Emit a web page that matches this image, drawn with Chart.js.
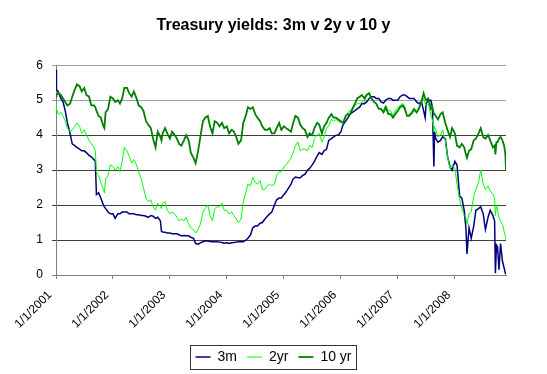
<!DOCTYPE html>
<html>
<head>
<meta charset="utf-8">
<title>Treasury yields</title>
<script src="https://cdn.jsdelivr.net/npm/chart.js@4.4.1/dist/chart.umd.min.js"></script>
<style>
  html, body { margin: 0; padding: 0; background: #fff; }
</style>
</head>
<body>
<canvas id="yields" width="547" height="374"></canvas>
<script>
// Values (roughly twice a month, yield in %)
const dates = [
  '2001-01-02','2001-01-04','2001-01-15','2001-02-01','2001-02-15','2001-03-01','2001-03-15','2001-04-01','2001-04-15',
  '2001-05-01','2001-05-15','2001-06-01','2001-06-15','2001-07-01','2001-07-15','2001-08-01','2001-08-15','2001-09-01',
  '2001-09-10','2001-09-17','2001-10-01','2001-10-15','2001-11-01','2001-11-07','2001-11-15','2001-12-01','2001-12-15',
  '2002-01-01','2002-01-15','2002-02-01','2002-02-15','2002-03-01','2002-03-15','2002-04-01','2002-04-15','2002-05-01',
  '2002-05-15','2002-06-01','2002-06-15','2002-07-01','2002-07-15','2002-08-01','2002-08-15','2002-09-01','2002-09-15',
  '2002-10-01','2002-10-15','2002-11-01','2002-11-08','2002-11-15','2002-12-01','2002-12-15',
  '2003-01-01','2003-01-15','2003-02-01','2003-02-15','2003-03-01','2003-03-15','2003-04-01','2003-04-15','2003-05-01',
  '2003-05-15','2003-06-01','2003-06-15','2003-07-01','2003-07-15','2003-08-01','2003-08-15','2003-09-01','2003-09-15',
  '2003-10-01','2003-10-15','2003-11-01','2003-11-15','2003-12-01','2003-12-15',
  '2004-01-01','2004-01-15','2004-02-01','2004-02-15','2004-03-01','2004-03-15','2004-04-01','2004-04-15','2004-05-01',
  '2004-05-15','2004-06-01','2004-06-15','2004-07-01','2004-07-15','2004-08-01','2004-08-15','2004-09-01','2004-09-15',
  '2004-10-01','2004-10-15','2004-11-01','2004-11-15','2004-12-01','2004-12-15',
  '2005-01-01','2005-01-15','2005-02-01','2005-02-15','2005-03-01','2005-03-15','2005-04-01','2005-04-15','2005-05-01',
  '2005-05-15','2005-06-01','2005-06-15','2005-07-01','2005-07-15','2005-08-01','2005-08-15','2005-09-01','2005-09-15',
  '2005-10-01','2005-10-15','2005-11-01','2005-11-15','2005-12-01','2005-12-15',
  '2006-01-01','2006-01-15','2006-02-01','2006-02-15','2006-03-01','2006-03-15','2006-04-01','2006-04-15','2006-05-01',
  '2006-05-15','2006-06-01','2006-06-15','2006-07-01','2006-07-15','2006-08-01','2006-08-15','2006-09-01','2006-09-15',
  '2006-10-01','2006-10-15','2006-11-01','2006-11-15','2006-12-01','2006-12-15',
  '2007-01-01','2007-01-15','2007-02-01','2007-02-15','2007-03-01','2007-03-15','2007-04-01','2007-04-15','2007-05-01',
  '2007-05-15','2007-06-01','2007-06-15','2007-06-25','2007-07-01','2007-07-15','2007-08-01','2007-08-10','2007-08-20',
  '2007-08-24','2007-09-01','2007-09-15','2007-10-01','2007-10-15','2007-11-01','2007-11-15','2007-12-01','2007-12-15',
  '2008-01-01','2008-01-15','2008-02-01','2008-02-15','2008-03-01','2008-03-12','2008-03-19','2008-04-01','2008-04-15',
  '2008-05-01','2008-05-15','2008-06-01','2008-06-15','2008-07-01','2008-07-15','2008-08-01','2008-08-15','2008-09-01',
  '2008-09-12','2008-09-17','2008-09-24','2008-10-01','2008-10-10','2008-10-20','2008-11-01','2008-11-12','2008-11-20',
  '2008-11-24'
];

const m3 = [
  5.87, 5.30, 5.25, 5.05, 4.95, 4.70, 4.35, 4.05, 3.75, 3.70, 3.65, 3.60, 3.55, 3.55, 3.50, 3.42, 3.38, 3.30,
  3.25, 2.30, 2.35, 2.20, 2.00, 1.95, 1.90, 1.80, 1.75,
  1.75, 1.62, 1.75, 1.75, 1.80, 1.80, 1.80, 1.75, 1.75, 1.75, 1.72, 1.72, 1.70, 1.70, 1.68, 1.65, 1.70, 1.68,
  1.62, 1.65, 1.55, 1.25, 1.23, 1.22, 1.20,
  1.20, 1.18, 1.18, 1.18, 1.15, 1.12, 1.13, 1.12, 1.12, 1.08, 1.05, 0.90, 0.88, 0.92, 0.95, 0.98, 0.97, 0.96,
  0.95, 0.95, 0.95, 0.94, 0.93, 0.91,
  0.92, 0.90, 0.92, 0.93, 0.94, 0.95, 0.96, 0.95, 1.00, 1.05, 1.15, 1.35, 1.40, 1.40, 1.48, 1.50, 1.60, 1.67,
  1.75, 1.80, 2.00, 2.15, 2.20, 2.20,
  2.30, 2.38, 2.50, 2.60, 2.75, 2.80, 2.78, 2.78, 2.85, 2.88, 3.00, 3.05, 3.15, 3.25, 3.40, 3.50, 3.45, 3.55,
  3.60, 3.85, 3.90, 3.95, 4.00, 4.00,
  4.10, 4.30, 4.40, 4.50, 4.60, 4.65, 4.70, 4.75, 4.80, 4.90, 4.90, 4.95, 5.05, 5.10, 5.10, 5.05, 5.05, 4.95,
  4.92, 5.00, 5.05, 5.05, 5.00, 5.00,
  5.00, 5.10, 5.15, 5.15, 5.10, 5.05, 5.05, 5.05, 4.95, 4.90, 4.95, 4.70, 4.50, 4.90, 5.00, 5.00, 4.80, 3.10,
  4.10, 3.90, 3.80, 3.85, 3.95, 3.90, 3.40, 3.10, 3.00,
  3.25, 3.15, 2.25, 2.20, 1.85, 1.35, 0.60, 1.35, 1.05, 1.40, 1.85, 1.90, 1.95, 1.75, 1.30, 1.65, 1.85, 1.70,
  1.55, 0.05, 0.85, 0.80, 0.15, 0.90, 0.40, 0.20, 0.05, 0.02
];

const y2 = [
  4.90, 4.75, 4.60, 4.65, 4.55, 4.40, 4.20, 4.10, 4.15, 4.25, 4.35, 4.25, 4.05, 4.15, 4.00, 3.85, 3.75, 3.65,
  3.55, 2.95, 2.85, 2.65, 2.45, 2.35, 2.75, 2.85, 3.15,
  3.10, 3.00, 3.10, 2.95, 3.25, 3.65, 3.55, 3.40, 3.20, 3.30, 3.15, 2.95, 2.75, 2.50, 2.20, 2.10, 2.15, 1.95,
  1.85, 2.05, 1.95, 1.90, 2.05, 2.10, 1.85,
  1.75, 1.80, 1.75, 1.65, 1.55, 1.60, 1.55, 1.65, 1.45, 1.35, 1.30, 1.20, 1.30, 1.45, 1.80, 1.90, 2.00, 1.70,
  1.55, 1.90, 1.95, 1.95, 2.05, 1.85,
  1.85, 1.75, 1.80, 1.70, 1.60, 1.50, 1.60, 2.10, 2.35, 2.60, 2.55, 2.80, 2.65, 2.60, 2.70, 2.45, 2.45, 2.55,
  2.60, 2.55, 2.60, 2.85, 2.95, 2.95,
  3.10, 3.15, 3.25, 3.35, 3.50, 3.70, 3.80, 3.55, 3.60, 3.60, 3.55, 3.70, 3.65, 3.90, 4.00, 4.05, 3.80, 3.95,
  4.20, 4.25, 4.45, 4.40, 4.45, 4.40,
  4.35, 4.35, 4.55, 4.65, 4.70, 4.70, 4.85, 4.90, 4.90, 4.95, 4.95, 5.15, 5.20, 5.05, 4.95, 4.90, 4.75, 4.75,
  4.70, 4.85, 4.70, 4.70, 4.55, 4.70,
  4.80, 4.85, 4.90, 4.80, 4.55, 4.60, 4.60, 4.70, 4.65, 4.80, 4.95, 5.05, 4.90, 4.85, 4.90, 4.55, 4.45, 4.10,
  4.25, 4.15, 3.95, 4.00, 4.15, 3.85, 3.40, 3.05, 3.15,
  3.05, 2.60, 2.15, 1.90, 1.70, 1.65, 1.45, 1.75, 1.80, 2.25, 2.45, 2.65, 3.00, 2.60, 2.45, 2.55, 2.40, 2.30,
  2.20, 1.70, 2.00, 1.85, 1.65, 1.55, 1.45, 1.25, 1.10, 1.00
];

const y10 = [
  5.10, 5.15, 5.20, 5.15, 5.05, 4.95, 4.85, 4.90, 5.10, 5.30, 5.45, 5.40, 5.25, 5.35, 5.15, 5.10, 4.85, 4.85,
  4.80, 4.70, 4.55, 4.50, 4.25, 4.20, 4.65, 4.75, 5.10,
  5.05, 4.95, 5.00, 4.90, 5.05, 5.35, 5.35, 5.20, 5.10, 5.25, 5.05, 4.85, 4.80, 4.70, 4.40, 4.30, 4.20, 3.90,
  3.65, 4.10, 3.95, 3.85, 4.05, 4.20, 4.05,
  3.90, 4.10, 4.00, 3.90, 3.75, 3.70, 3.85, 4.00, 3.85, 3.50, 3.35, 3.20, 3.55, 3.95, 4.40, 4.50, 4.55, 4.25,
  4.05, 4.40, 4.35, 4.25, 4.35, 4.20,
  4.25, 4.05, 4.15, 4.10, 3.95, 3.75, 3.85, 4.35, 4.55, 4.80, 4.75, 4.80, 4.60, 4.50, 4.40, 4.25, 4.15, 4.15,
  4.20, 4.05, 4.05, 4.20, 4.35, 4.15,
  4.25, 4.20, 4.15, 4.10, 4.35, 4.55, 4.50, 4.30, 4.20, 4.15, 3.95, 4.05, 4.00, 4.20, 4.35, 4.30, 4.05, 4.25,
  4.35, 4.50, 4.60, 4.50, 4.50, 4.45,
  4.40, 4.35, 4.55, 4.60, 4.60, 4.75, 4.90, 5.05, 5.10, 5.15, 5.05, 5.15, 5.20, 5.05, 4.95, 4.90, 4.75, 4.75,
  4.65, 4.80, 4.60, 4.60, 4.50, 4.60,
  4.70, 4.80, 4.85, 4.75, 4.55, 4.55, 4.65, 4.75, 4.65, 4.75, 4.95, 5.20, 5.05, 5.00, 5.05, 4.75, 4.80, 4.60,
  4.60, 4.55, 4.45, 4.60, 4.65, 4.35, 4.15, 3.95, 4.20,
  4.05, 3.70, 3.65, 3.75, 3.65, 3.45, 3.35, 3.55, 3.60, 3.85, 3.90, 4.05, 4.20, 3.95, 3.90, 4.00, 3.85, 3.65,
  3.70, 3.45, 3.80, 3.80, 3.90, 3.95, 3.85, 3.70, 3.45, 3.00
];

const tickLabels = ['1/1/2001', '1/1/2002', '1/1/2003', '1/1/2004', '1/1/2005', '1/1/2006', '1/1/2007', '1/1/2008'];

// dates -> whole days since 1 Jan 2001, so the x axis is a plain linear scale
const DAY = 86400000;
const origin = Date.UTC(2001, 0, 1);
function isoToDay(s) {
    const p = s.split('-');
    return Math.round((Date.UTC(+p[0], +p[1] - 1, +p[2]) - origin) / DAY);
}
function labelToDay(s) {
    const p = s.split('/');
    return Math.round((Date.UTC(+p[2], +p[0] - 1, +p[1]) - origin) / DAY);
}
const xs = dates.map(isoToDay);
const tickDays = tickLabels.map(labelToDay);
const toPoints = vals => vals.map((v, i) => ({ x: xs[i], y: v }));

const FONT = '"Liberation Sans", Arial, sans-serif';

// Excel style legend frame
const legendFrame = {
    id: 'legendFrame',
    afterDraw(chart) {
        const boxes = chart.legend && chart.legend.legendHitBoxes;
        if (!boxes || !boxes.length) return;
        const left = Math.min(...boxes.map(b => b.left)) - 5;
        const right = Math.max(...boxes.map(b => b.left + b.width)) + 5;
        const top = Math.min(...boxes.map(b => b.top)) - 5;
        const bottom = Math.max(...boxes.map(b => b.top + b.height)) + 5;
        const ctx = chart.ctx;
        ctx.save();
        ctx.strokeStyle = '#333';
        ctx.lineWidth = 1;
        ctx.strokeRect(Math.round(left) + 0.5, Math.round(top) + 0.5, Math.round(right - left), Math.round(bottom - top));
        ctx.restore();
    }
};

function gridColor(c) {
    const v = c.tick ? c.tick.value : null;
    if (v === 0) return '#808080';
    if (v === 5 || v === 6) return '#a0a0a0';
    return '#404040';
}

new Chart(document.getElementById('yields'), {
    type: 'line',
    data: {
        datasets: [
            { label: '3m', data: toPoints(m3), borderColor: '#000080', backgroundColor: '#000080', borderWidth: 1.5, order: 3 },
            { label: '2yr', data: toPoints(y2), borderColor: '#00ff00', backgroundColor: '#00ff00', borderWidth: 1, order: 2 },
            { label: '10 yr', data: toPoints(y10), borderColor: '#008000', backgroundColor: '#008000', borderWidth: 1.8, order: 1 }
        ]
    },
    options: {
        responsive: false,
        animation: false,
        devicePixelRatio: 1,
        elements: { point: { radius: 0 }, line: { tension: 0 } },
        layout: { padding: { left: 0, right: 0, top: 0, bottom: 0 } },
        plugins: {
            title: {
                display: true,
                text: 'Treasury yields: 3m v 2y v 10 y',
                color: '#000',
                font: { family: FONT, size: 16, weight: 'bold' },
                padding: { top: 16, bottom: 30 }
            },
            legend: {
                position: 'bottom',
                labels: {
                    color: '#000',
                    font: { family: FONT, size: 14 },
                    usePointStyle: true,
                    pointStyle: 'line',
                    pointStyleWidth: 15,
                    padding: 10,
                    sort: (a, b) => a.datasetIndex - b.datasetIndex
                }
            },
            tooltip: { enabled: false }
        },
        scales: {
            x: {
                type: 'linear',
                min: 0,
                max: xs[xs.length - 1],
                afterBuildTicks: s => { s.ticks = tickDays.map(v => ({ value: v })); },
                afterFit: s => { s.height = 65; },
                grid: { drawOnChartArea: false, drawTicks: true, tickLength: 4, color: '#808080' },
                border: { color: '#808080' },
                ticks: {
                    autoSkip: false,
                    maxRotation: 45,
                    minRotation: 45,
                    padding: 9,
                    labelOffset: -6,
                    color: '#000',
                    font: { family: FONT, size: 12 },
                    callback: (v) => tickLabels[tickDays.indexOf(v)]
                }
            },
            y: {
                min: 0,
                max: 6,
                afterFit: s => { s.width = 56; },
                grid: { color: gridColor, tickLength: 4 },
                border: { color: '#808080' },
                ticks: { stepSize: 1, padding: 9, color: '#000', font: { family: FONT, size: 12 } }
            },
            yRight: {
                position: 'right',
                afterFit: s => { s.width = 41; },
                grid: { display: false },
                border: { display: false },
                ticks: { display: false }
            }
        }
    },
    plugins: [legendFrame]
});
</script>
</body>
</html>
